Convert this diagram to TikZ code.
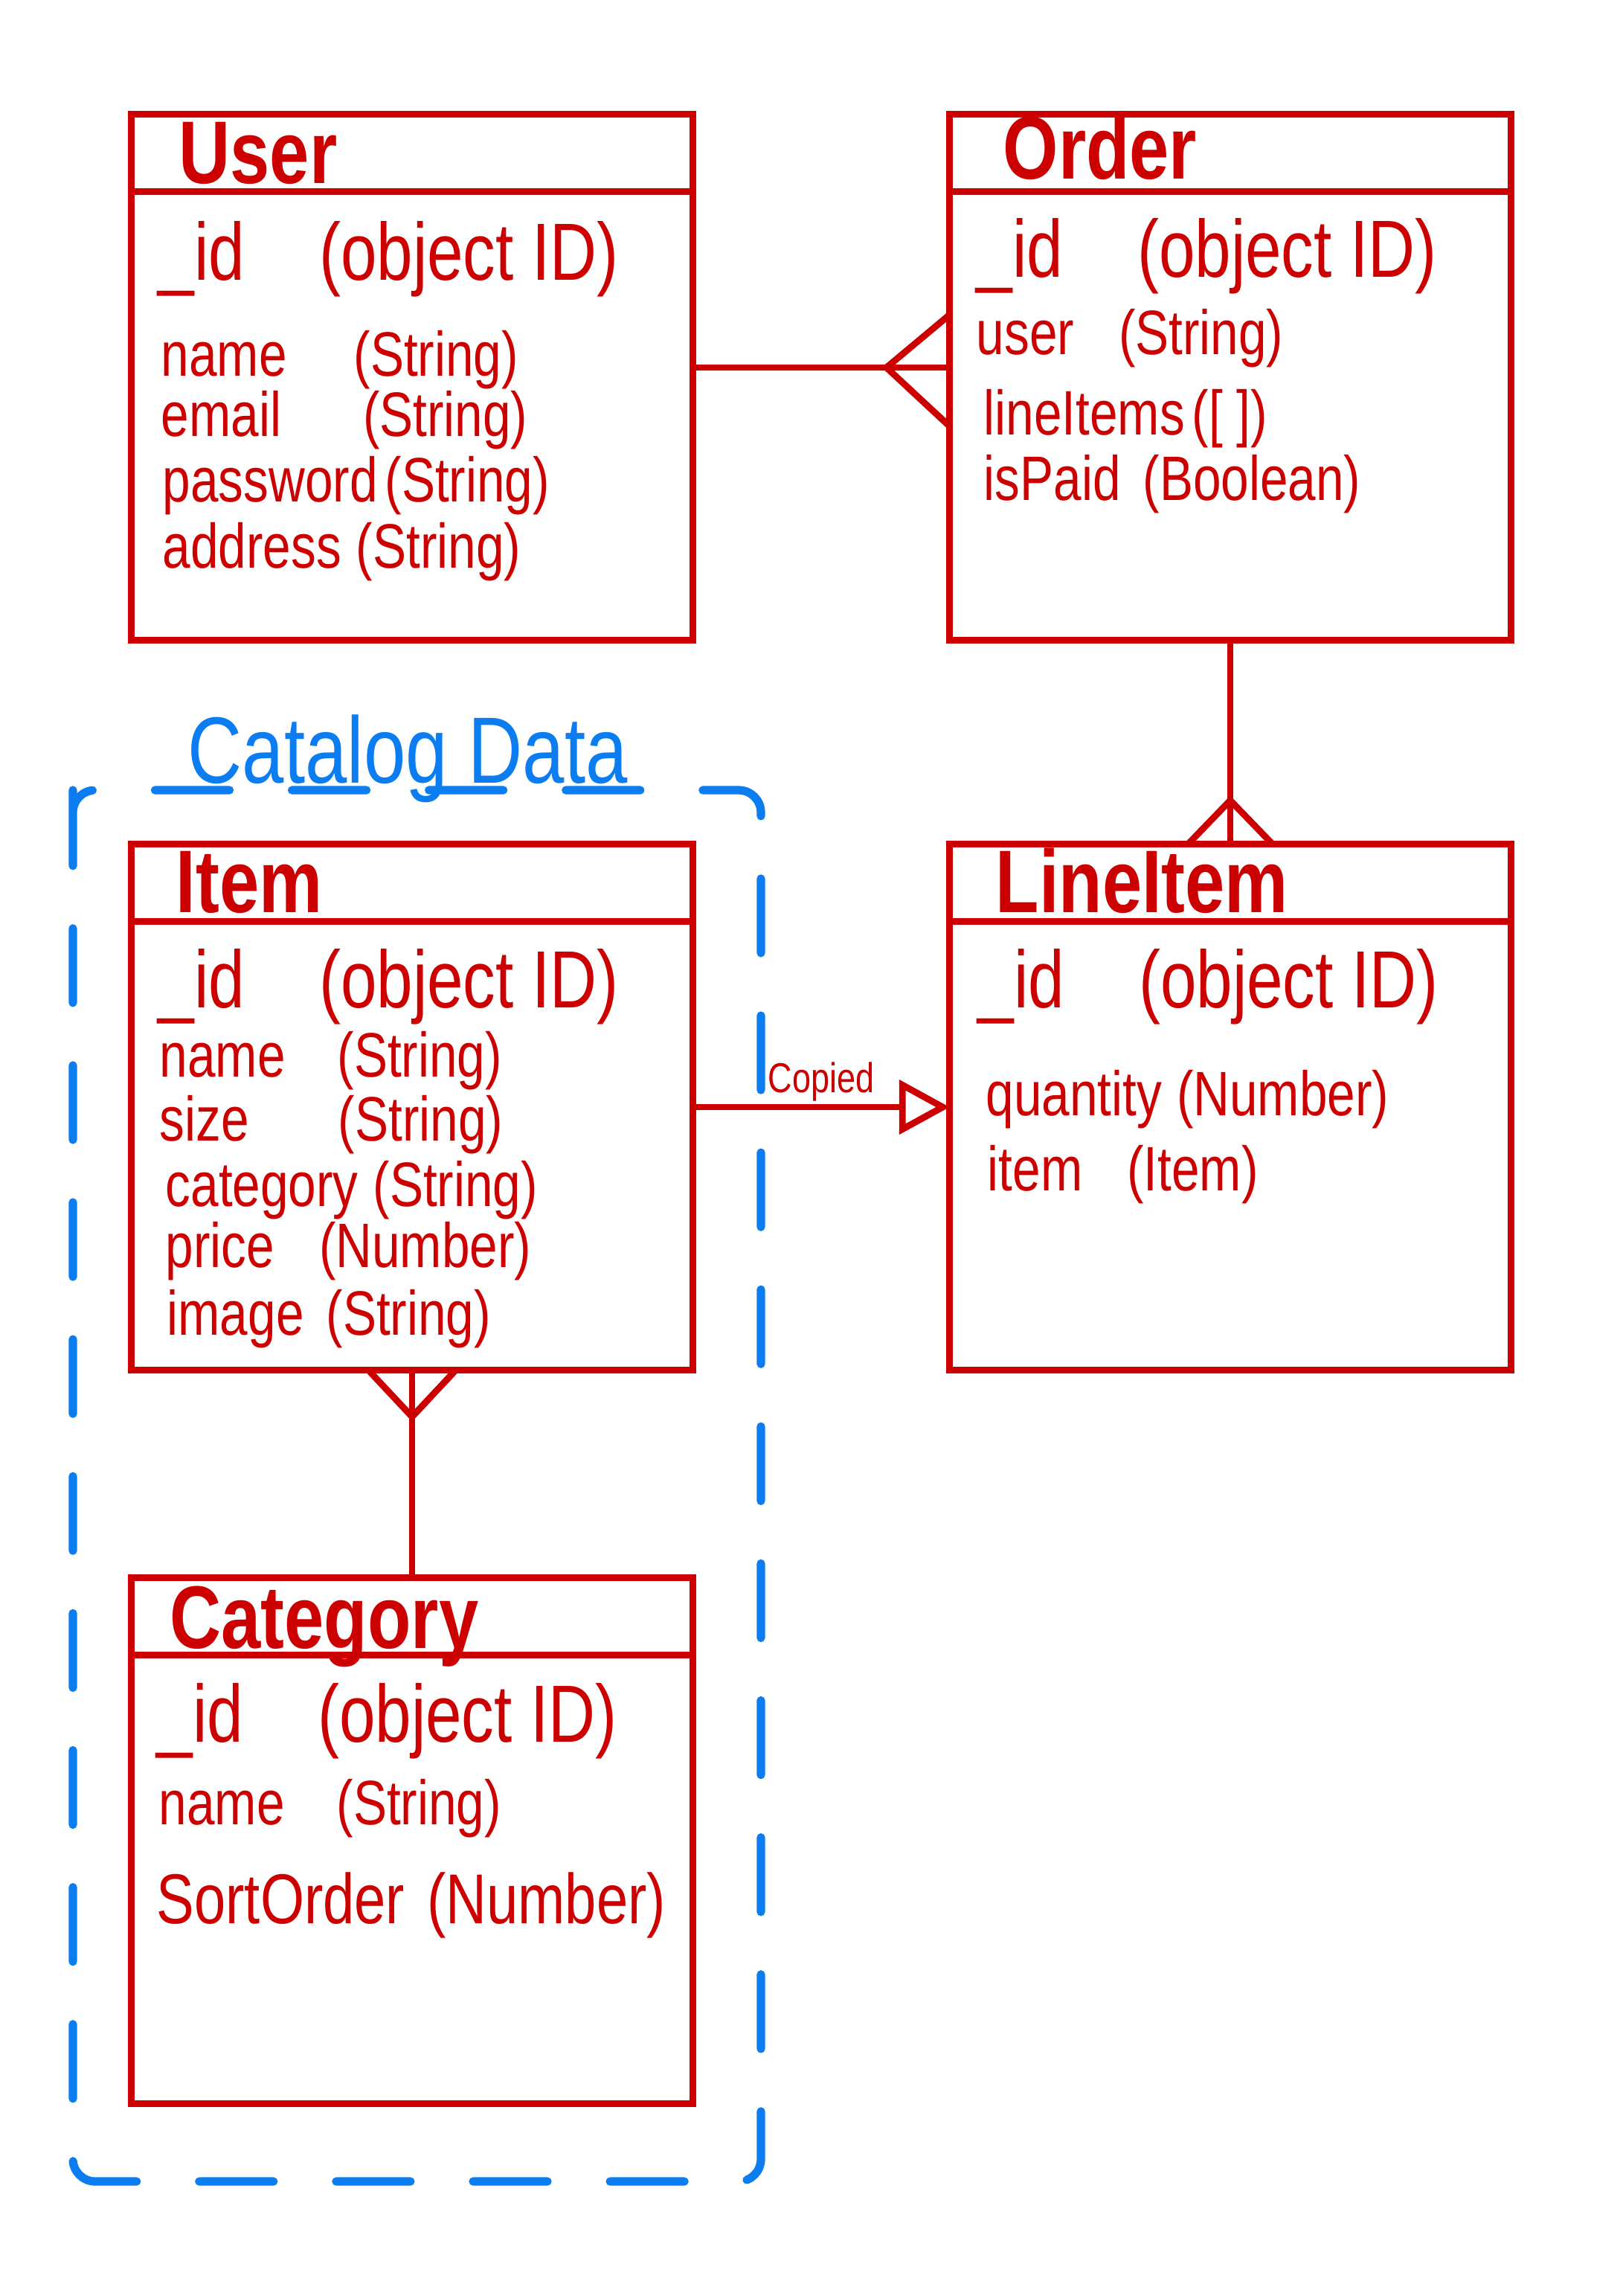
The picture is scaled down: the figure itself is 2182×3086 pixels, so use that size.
\documentclass[tikz,border=0pt]{standalone}
\usepackage{fontspec}
\usepackage{tikz}
\usetikzlibrary{arrows.meta}
\newfontfamily\handfont[FakeStretch=0.8]{Liberation Sans}
\definecolor{erred}{HTML}{CC0000}
\definecolor{catblue}{HTML}{0B7DF0}

\begin{document}
\begin{tikzpicture}[x=0.01cm, y=-0.01cm,
    entity/.style={draw=erred, line width=2.5pt, minimum width=7.54cm, minimum height=7.06cm, inner sep=0pt, outer sep=0pt},
    etitle/.style={anchor=base west, text=erred, inner sep=0pt, font=\handfont\bfseries\fontsize{34}{40}\selectfont},
    idrow/.style={anchor=west, text=erred, inner sep=0pt, font=\handfont\fontsize{31}{36}\selectfont},
    field/.style={anchor=west, text=erred, inner sep=0pt, font=\handfont\fontsize{24}{29}\selectfont},
    link/.style={draw=erred, line width=2.5pt},
    catframe/.style={draw=catblue, line width=3.2pt, line cap=round, dash pattern=on 1cm off 0.84cm, dash phase=0.265cm, rounded corners=0.3cm},
    catlabel/.style={anchor=base west, text=catblue, inner sep=0pt, font=\handfont\fontsize{36}{42}\selectfont}]
\useasboundingbox (0,0) rectangle (2182,3086);

    % Catalog group
    \draw[catframe] (98,1092) -- (98,1062) -- (1023,1062) -- (1023,2932) -- (98,2932) -- cycle;
    \node[catlabel] (catlabel) at (252,1052) {Catalog Data};

    % Entities
    \node[entity] (user) at (554,507) {};
    \node[entity] (order) at (1654,507) {};
    \node[entity] (item) at (554,1488) {};
    \node[entity] (lineitem) at (1654,1488) {};
    \node[entity] (category) at (554,2474) {};

    % Header lines
    \foreach \e in {user, order, item, lineitem, category}
        \draw[link] ([yshift=-1.04cm]\e.north west) -- ([yshift=-1.04cm]\e.north east);

    % Titles
    \node[etitle] (usertitle) at (240,246) {User};
    \node[etitle] (ordertitle) at (1348,240) {Order};
    \node[etitle] (itemtitle) at (236,1226) {Item};
    \node[etitle] (lineitemtitle) at (1338,1226) {LineItem};
    \node[etitle] (categorytitle) at (228,2215) {Category};

    % User fields
    \node[idrow] (userid) at (212,348) {\_id\hspace{10mm}(object ID)};
    \node[field] (username) at (216,484) {name\hspace{9mm}(String)};
    \node[field] (useremail) at (216,565) {email\hspace{11mm}(String)};
    \node[field] (userpass) at (218,653) {password\hspace{1mm}(String)};
    \node[field] (useraddr) at (218,742) {address\hspace{2mm}(String)};

    % Order fields
    \node[idrow] (orderid) at (1312,344) {\_id\hspace{10mm}(object ID)};
    \node[field] (orderuser) at (1312,455) {user\hspace{6mm}(String)};
    \node[field] (orderlines) at (1322,563) {lineItems\hspace{1mm}([ ])};
    \node[field] (orderpaid) at (1322,651) {isPaid\hspace{3mm}(Boolean)};

    % Item fields
    \node[idrow] (itemid) at (212,1326) {\_id\hspace{10mm}(object ID)};
    \node[field] (itemname) at (214,1426) {name\hspace{7mm}(String)};
    \node[field] (itemsize) at (214,1512) {size\hspace{12mm}(String)};
    \node[field] (itemcat) at (222,1600) {category\hspace{2mm}(String)};
    \node[field] (itemprice) at (222,1682) {price\hspace{6mm}(Number)};
    \node[field] (itemimage) at (224,1773) {image\hspace{3mm}(String)};

    % LineItem fields
    \node[idrow] (lineid) at (1314,1326) {\_id\hspace{10mm}(object ID)};
    \node[field] (lineqty) at (1325,1478) {quantity\hspace{2mm}(Number)};
    \node[field] (lineitm) at (1327,1579) {item\hspace{6mm}(Item)};

    % Category fields
    \node[idrow] (catid) at (210,2313) {\_id\hspace{10mm}(object ID)};
    \node[field] (catname) at (213,2431) {name\hspace{7mm}(String)};
    \node[field, font=\handfont\fontsize{27}{32}\selectfont] (catsort) at (210,2561) {SortOrder\hspace{3mm}(Number)};

    % Lines
    \coordinate (uocrow) at ([xshift=-0.85cm, yshift=0.13cm]order.west);
    \draw[link] ([yshift=0.13cm]user.east) -- ([yshift=0.13cm]order.west);
    \draw[link] ([yshift=0.84cm]order.west) -- (uocrow) -- ([yshift=-0.66cm]order.west);

    \coordinate (olcrow) at ([yshift=0.59cm]lineitem.north);
    \draw[link] (order.south) -- (lineitem.north);
    \draw[link] ([xshift=-0.57cm]lineitem.north) -- (olcrow) -- ([xshift=0.57cm]lineitem.north);

    \coordinate (iccrow) at ([yshift=-0.63cm]item.south);
    \draw[link] (item.south) -- (category.north);
    \draw[link] ([xshift=-0.59cm]item.south) -- (iccrow) -- ([xshift=0.59cm]item.south);

    \draw[link, -{Triangle[open, length=0.68cm, width=0.72cm]}] (item.east) -- (lineitem.west)
        node[midway, above, inner sep=1pt, text=erred, font=\handfont\fontsize{16}{19}\selectfont] (copied) {Copied};
\end{tikzpicture}
\end{document}
